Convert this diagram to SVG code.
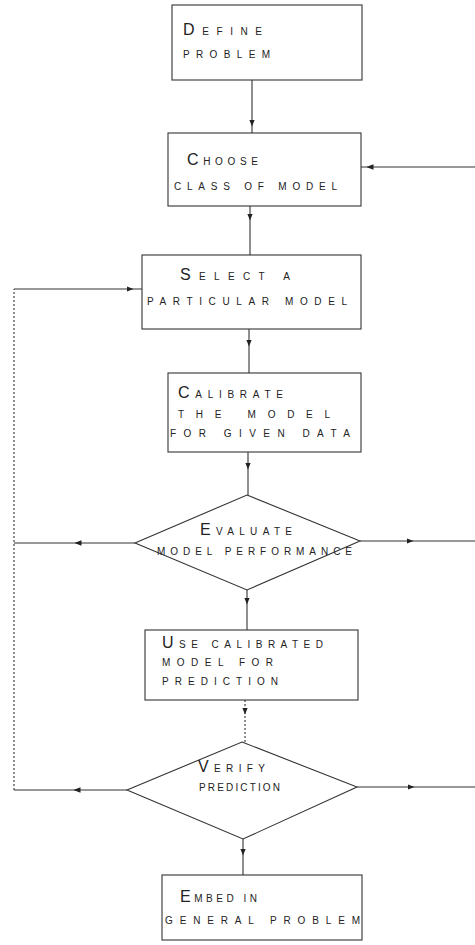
<svg xmlns="http://www.w3.org/2000/svg" width="475" height="945" viewBox="0 0 475 945">
<style>
.n{fill:#fff;stroke:#333;stroke-width:1.1}
.c{fill:none;stroke:#333;stroke-width:1.1}
.d{stroke-dasharray:2 2}
text{font-family:"Liberation Sans",Arial,sans-serif;font-size:10px;fill:#222}
.b{font-size:16px}
</style>
<defs>
<marker id="ah" viewBox="0 0 10 10" refX="5" refY="5" markerWidth="7" markerHeight="7" markerUnits="userSpaceOnUse" orient="auto">
<path d="M0,1 L10,5 L0,9 Z" fill="#222"/>
</marker>
</defs>
<g id="connectors">
<path class="c" d="M252,80 L252,123 L252,133" marker-mid="url(#ah)"/>
<path class="c" d="M250,206 L250,217 L250,255" marker-mid="url(#ah)"/>
<path class="c" d="M249,329 L249,343 L249,373" marker-mid="url(#ah)"/>
<path class="c" d="M248,452 L248,466 L248,495" marker-mid="url(#ah)"/>
<path class="c" d="M247,590 L247,601 L247,630" marker-mid="url(#ah)"/>
<path class="c d" d="M245,700 L245,711 L245,742" marker-mid="url(#ah)"/>
<path class="c" d="M243,839 L243,852 L243,875" marker-mid="url(#ah)"/>
<path class="c" d="M475,167 L370,167 L361,167" marker-mid="url(#ah)"/>
<path class="c" d="M360,541 L410,541 L475,541" marker-mid="url(#ah)"/>
<path class="c" d="M357,787 L411,787 L475,787" marker-mid="url(#ah)"/>
<path class="c" d="M135,543 L78,543 L14,543" marker-mid="url(#ah)"/>
<path class="c" d="M127,790 L77,790 L14,790" marker-mid="url(#ah)"/>
<path class="c d" d="M14,790 L14,289"/>
<path class="c" d="M14,289 L130,289 L142,289" marker-mid="url(#ah)"/>
</g>
<g id="define">
<rect class="n" x="172" y="5" width="190" height="75"/>
<text x="183" y="35" textLength="79" lengthAdjust="spacing"><tspan class="b">D</tspan>EFINE</text>
<text x="183" y="58" textLength="87" lengthAdjust="spacing">PROBLEM</text>
</g>
<g id="choose">
<rect class="n" x="168" y="133" width="193" height="73"/>
<text x="187" y="165" textLength="71" lengthAdjust="spacing"><tspan class="b">C</tspan>HOOSE</text>
<text x="174" y="190" textLength="163" lengthAdjust="spacing">CLASS OF MODEL</text>
</g>
<g id="select">
<rect class="n" x="142" y="255" width="219" height="74"/>
<text x="180" y="280" textLength="110" lengthAdjust="spacing"><tspan class="b">S</tspan>ELECT   A</text>
<text x="147" y="305" textLength="200" lengthAdjust="spacing">PARTICULAR MODEL</text>
</g>
<g id="calibrate">
<rect class="n" x="168" y="373" width="193" height="79"/>
<text x="178" y="398" textLength="105" lengthAdjust="spacing"><tspan class="b">C</tspan>ALIBRATE</text>
<text x="178" y="418" textLength="152" lengthAdjust="spacing">THE  MODEL</text>
<text x="170" y="437" textLength="180" lengthAdjust="spacing">FOR GIVEN DATA</text>
</g>
<g id="evaluate">
<polygon class="n" points="247,495 360,541 247,590 135,543"/>
<text x="200" y="535" textLength="92" lengthAdjust="spacing"><tspan class="b">E</tspan>VALUATE</text>
<text x="157" y="555" textLength="195" lengthAdjust="spacing">MODEL  PERFORMANCE</text>
</g>
<g id="use">
<rect class="n" x="145" y="630" width="213" height="70"/>
<text x="162" y="648" textLength="161" lengthAdjust="spacing"><tspan class="b">U</tspan>SE  CALIBRATED</text>
<text x="162" y="666" textLength="111" lengthAdjust="spacing">MODEL  FOR</text>
<text x="162" y="685" textLength="116" lengthAdjust="spacing">PREDICTION</text>
</g>
<g id="verify">
<polygon class="n" points="242,742 357,787 243,839 127,790"/>
<text x="198" y="772" textLength="67" lengthAdjust="spacing"><tspan class="b">V</tspan>ERIFY</text>
<text x="199" y="791" textLength="81" lengthAdjust="spacing">PREDICTION</text>
</g>
<g id="embed">
<rect class="n" x="162" y="875" width="200" height="65"/>
<text x="180" y="902" textLength="77" lengthAdjust="spacing"><tspan class="b">E</tspan>MBED   IN</text>
<text x="165" y="924" textLength="195" lengthAdjust="spacing">GENERAL PROBLEM</text>
</g>
</svg>
